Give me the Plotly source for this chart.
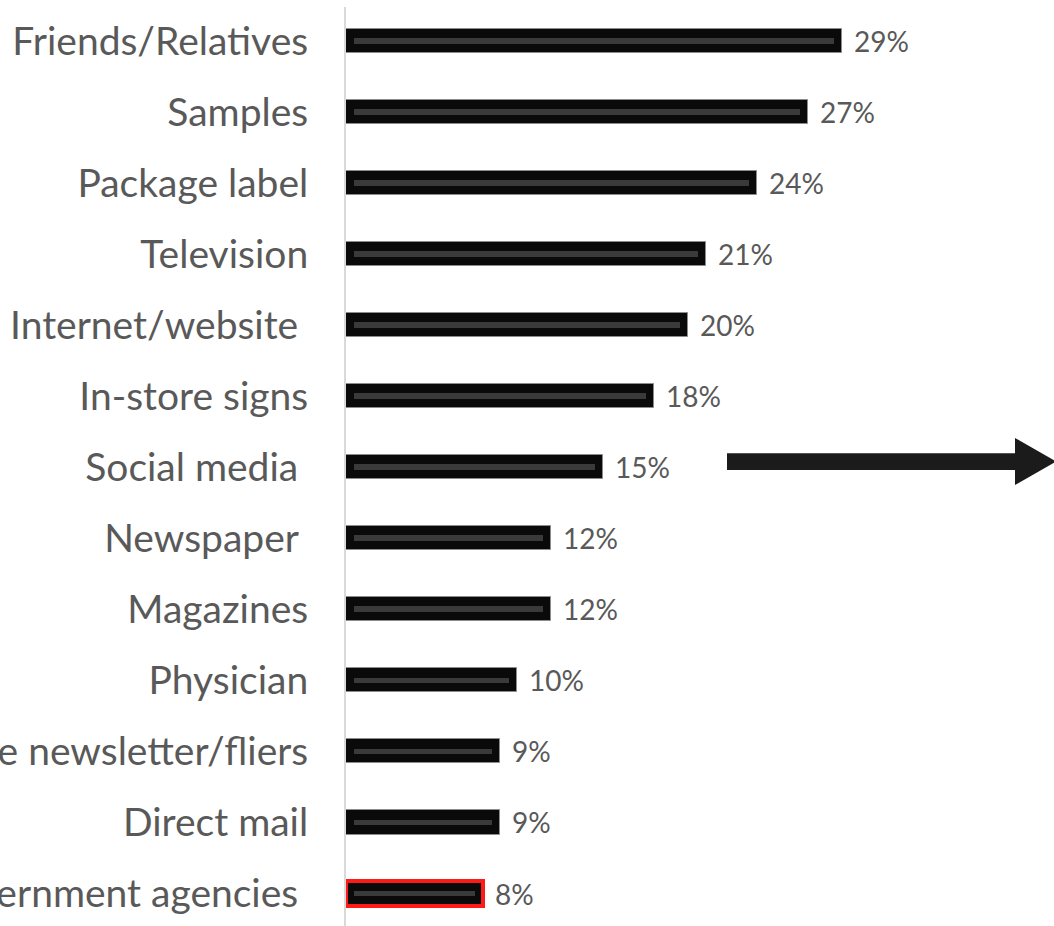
import plotly.graph_objects as go

categories = [
    "Friends/Relatives", "Samples", "Package label", "Television",
    "Internet/website\u00a0", "In-store signs", "Social media\u00a0", "Newspaper\u00a0",
    "Magazines", "Physician", "Store newsletter/fliers", "Direct mail",
    "Government agencies\u00a0",
]
values = [29, 27, 24, 21, 20, 18, 15, 12, 12, 10, 9, 9, 8]

W, H = 1054, 926
L, T = 346, 7
PX_PER_UNIT = 17.12
ROW = 71.04
x_max = (W - L) / PX_PER_UNIT
y_top = -(41 - T) / ROW
y_bot = (len(categories) - 1) + (H - 893.5) / ROW

idx = list(range(len(categories)))
n = len(values)
line_colors = ["#8c8c8c"] * (n - 1) + ["#ff1a1a"]
line_widths = [1] * (n - 1) + [4]

fig = go.Figure()
fig.add_trace(go.Bar(
    x=values, y=idx, orientation="h", width=0.34,
    marker=dict(color="#0a0a0a", line=dict(color=line_colors, width=line_widths)),
    hoverinfo="skip", showlegend=False,
))
# bevel highlight stripe
bev = 8 / PX_PER_UNIT
fig.add_trace(go.Bar(
    x=[v - 2 * bev for v in values], base=[bev] * n, y=idx, orientation="h", width=0.08,
    marker=dict(color="#3a3a3a", line=dict(width=0)),
    hoverinfo="skip", showlegend=False,
))

for i, v in enumerate(values):
    fig.add_annotation(
        x=v, y=i, xref="x", yref="y", text=f"{v}%", showarrow=False,
        xanchor="left", yanchor="middle", xshift=10,
        font=dict(family="Lato", size=28, color="#595959"),
    )

# decorative arrow (pixel -> paper helper)
def px(xp):
    return (xp - L) / (W - L)

def py(yp):
    return (H - yp) / (H - T)

pts = [(727, 453.3), (1015, 453.3), (1015, 438), (1056, 461.5), (1015, 485), (1015, 470), (727, 470)]
path = "M " + " L ".join(f"{px(a):.5f},{py(b):.5f}" for a, b in pts) + " Z"
fig.add_shape(type="path", path=path, xref="paper", yref="paper",
              fillcolor="#1b1b1b", line=dict(width=0), layer="above")

fig.update_layout(
    width=W, height=H,
    margin=dict(l=L, r=0, t=T, b=0),
    paper_bgcolor="white", plot_bgcolor="white",
    barmode="overlay", bargap=0,
    xaxis=dict(range=[0, x_max], visible=False, fixedrange=True),
    yaxis=dict(
        range=[y_bot, y_top], tickmode="array", tickvals=idx, ticktext=categories,
        showline=True, linecolor="#d9d9d9", linewidth=2, showgrid=False, zeroline=False,
        ticks="", ticklabelstandoff=28, automargin=False,
        tickfont=dict(family="Lato", size=39, color="#595959"),
    ),
    showlegend=False,
)

fig.write_html("out.html")
